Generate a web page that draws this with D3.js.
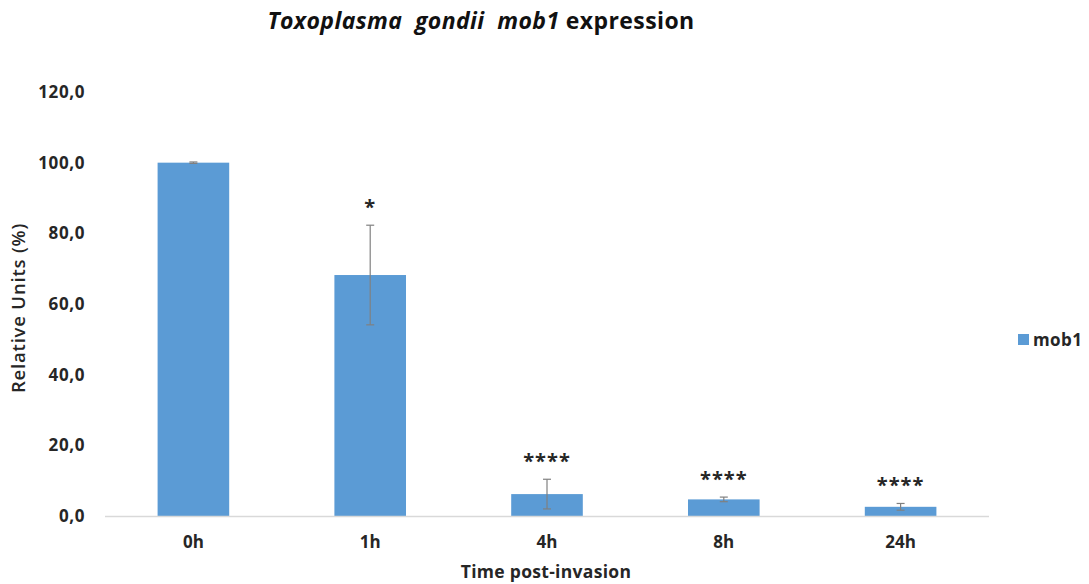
<!DOCTYPE html>
<html>
<head>
<meta charset="utf-8">
<script src="https://cdn.jsdelivr.net/npm/d3@7"></script>
<style>
  html, body { margin: 0; padding: 0; background: #fff; }
  svg { display: block; font-family: "Open Sans", "Noto Sans", sans-serif; }
</style>
</head>
<body>
<svg id="chart" width="1089" height="584"></svg>
<script>
// Relative mob1 expression at each time point after invasion
const categories = ["0h", "1h", "4h", "8h", "24h"];
const values = [100.0, 68.2, 6.2, 4.7, 2.6];
const errors = [0.2, 14.1, 4.2, 0.65, 0.95];
const significance = ["", "*", "****", "****", "****"];
const yTicks = [0, 20, 40, 60, 80, 100, 120];
const seriesName = "mob1";

const svg = d3.select("#chart");
const margin = { left: 105, right: 100, top: 92, bottom: 68 };
const W = 1089, H = 584;
const barColor = "#5b9bd5";
const textColor = "#262626";

const x = d3.scaleBand()
  .domain(categories)
  .range([margin.left, W - margin.right])
  .paddingInner(0.595)
  .paddingOuter(0.2975);

const y = d3.scaleLinear()
  .domain([0, 120])
  .range([H - margin.bottom, margin.top]);

const fmt = v => d3.format(".1f")(v).replace(".", ",");

// Y axis labels (no axis line)
const yAxis = d3.axisLeft(y).tickValues(yTicks).tickFormat(fmt).tickSize(0).tickPadding(0);
svg.append("g")
  .attr("transform", `translate(85,0)`)
  .call(yAxis)
  .call(g => g.select(".domain").remove())
  .call(g => g.selectAll("text")
    .attr("font-size", 17).attr("font-weight", "bold").attr("fill", textColor)
    .attr("letter-spacing", 0.6)
    .attr("font-family", "'Open Sans', sans-serif"));

// Bars
svg.append("g").selectAll("rect")
  .data(categories)
  .join("rect")
  .attr("x", d => x(d))
  .attr("width", x.bandwidth())
  .attr("y", (d, i) => y(values[i]))
  .attr("height", (d, i) => y(0) - y(values[i]))
  .attr("fill", barColor);

// Baseline
svg.append("line")
  .attr("x1", margin.left).attr("x2", W - margin.right)
  .attr("y1", y(0) + 0.5).attr("y2", y(0) + 0.5)
  .attr("stroke", "#d9d9d9").attr("stroke-width", 1.5);

// X axis labels
const xAxis = d3.axisBottom(x).tickSize(0).tickPadding(0);
svg.append("g")
  .attr("transform", `translate(0,${y(0)})`)
  .call(xAxis)
  .call(g => g.select(".domain").remove())
  .call(g => g.selectAll("text")
    .attr("dy", null)
    .attr("y", 32)
    .attr("font-size", 17).attr("font-weight", "bold").attr("fill", textColor)
    .attr("font-family", "'Open Sans', sans-serif"));

// Error bars
const eg = svg.append("g").attr("stroke", "#808080").attr("stroke-width", 1.2);
categories.forEach((c, i) => {
  const cx = x(c) + x.bandwidth() / 2;
  const top = y(values[i] + errors[i]);
  const bot = y(values[i] - errors[i]);
  eg.append("line").attr("x1", cx).attr("x2", cx).attr("y1", top).attr("y2", bot);
  eg.append("line").attr("x1", cx - 4).attr("x2", cx + 4).attr("y1", top).attr("y2", top);
  eg.append("line").attr("x1", cx - 4).attr("x2", cx + 4).attr("y1", bot).attr("y2", bot);
});

// Significance marks
svg.append("g").selectAll("text")
  .data(categories)
  .join("text")
  .attr("x", d => x(d) + x.bandwidth() / 2)
  .attr("y", (d, i) => y(values[i] + errors[i]) - 11)
  .attr("text-anchor", "middle")
  .attr("font-size", 20)
  .attr("font-weight", "bold")
  .attr("fill", textColor)
  .attr("letter-spacing", 1)
  .text((d, i) => significance[i]);

// Title
const title = svg.append("text")
  .attr("x", 481).attr("y", 29)
  .attr("text-anchor", "middle")
  .attr("font-size", 23).attr("font-weight", "bold").attr("fill", "#111")
  .attr("letter-spacing", 0.4)
  .style("white-space", "pre");
title.append("tspan").attr("font-style", "italic").text("Toxoplasma\u00a0 gondii\u00a0 mob1");
title.append("tspan").text(" expression");

// Axis titles
svg.append("text")
  .attr("x", 546).attr("y", 578)
  .attr("text-anchor", "middle")
  .attr("font-size", 17.5).attr("font-weight", "bold").attr("fill", textColor)
  .attr("letter-spacing", 0.3)
  .text("Time post-invasion");

svg.append("text")
  .attr("transform", `translate(25,${308}) rotate(-90)`)
  .attr("text-anchor", "middle")
  .attr("font-size", 18.5).attr("font-weight", 600).attr("fill", textColor)
  .attr("letter-spacing", 0.8)
  .text("Relative Units (%)");

// Legend
const lg = svg.append("g").attr("transform", "translate(1018,334)");
lg.append("rect").attr("width", 11).attr("height", 11).attr("fill", barColor);
lg.append("text").attr("x", 15).attr("y", 12)
  .attr("font-size", 17).attr("font-weight", "bold").attr("fill", textColor)
  .attr("letter-spacing", 0.4)
  .text(seriesName);
</script>
</body>
</html>
